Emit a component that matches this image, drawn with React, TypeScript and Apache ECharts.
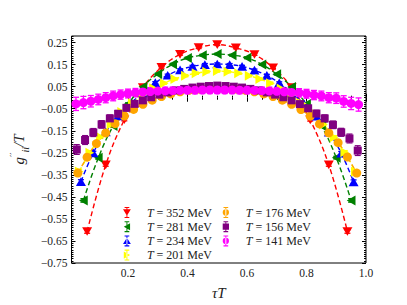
import React, { useEffect, useRef } from "react";
import * as echarts from "echarts";

// Temperatures (MeV), temporal extents N_tau, series colours
const temps = [352, 281, 234, 201, 176, 156, 141];
const nTau = [16, 20, 24, 28, 32, 36, 40];
const colors = ["#ff0000", "#008000", "#0000ff", "#ffff00", "#ffa500", "#800080", "#ff00ff"];

// g''_ii / T values at tauT = k / N_tau, k = 1 .. N_tau-1
const g352 = [-0.607, -0.305, -0.100, 0.046, 0.138, 0.197, 0.227, 0.241, 0.226, 0.196, 0.136, 0.046, -0.101, -0.305, -0.607];
const e352 = [0.008, 0.006, 0.005, 0.005, 0.004, 0.004, 0.004, 0.004, 0.004, 0.004, 0.004, 0.005, 0.005, 0.006, 0.008];

const g281 = [-0.466, -0.273, -0.128, -0.028, 0.050, 0.108, 0.152, 0.180, 0.193, 0.198, 0.193, 0.181, 0.151, 0.107, 0.049, -0.029, -0.127, -0.272, -0.466];
const e281 = [0.008, 0.006, 0.005, 0.005, 0.005, 0.004, 0.004, 0.004, 0.004, 0.004, 0.004, 0.004, 0.004, 0.004, 0.005, 0.005, 0.005, 0.006, 0.008];

const g234 = [-0.381, -0.250, -0.155, -0.083, -0.027, 0.022, 0.068, 0.102, 0.126, 0.142, 0.150, 0.153, 0.150, 0.142, 0.125, 0.101, 0.067, 0.021, -0.028, -0.084, -0.156, -0.251, -0.382];
const e234 = [0.009, 0.007, 0.006, 0.005, 0.005, 0.005, 0.005, 0.005, 0.005, 0.005, 0.005, 0.005, 0.005, 0.005, 0.005, 0.005, 0.005, 0.005, 0.005, 0.005, 0.006, 0.007, 0.009];

const g201 = [-0.335, -0.250, -0.178, -0.120, -0.065, -0.025, 0.012, 0.043, 0.066, 0.085, 0.100, 0.111, 0.118, 0.121, 0.118, 0.111, 0.100, 0.085, 0.066, 0.042, 0.011, -0.026, -0.066, -0.121, -0.179, -0.248, -0.336];
const e201 = [0.010, 0.008, 0.007, 0.006, 0.006, 0.006, 0.005, 0.005, 0.005, 0.005, 0.005, 0.005, 0.005, 0.005, 0.005, 0.005, 0.005, 0.005, 0.005, 0.005, 0.005, 0.006, 0.006, 0.006, 0.007, 0.008, 0.010];

const g176 = [-0.342, -0.270, -0.208, -0.160, -0.118, -0.083, -0.053, -0.030, -0.011, 0.005, 0.017, 0.027, 0.034, 0.039, 0.042, 0.043, 0.042, 0.039, 0.034, 0.027, 0.017, 0.005, -0.011, -0.030, -0.054, -0.084, -0.119, -0.160, -0.204, -0.269, -0.342];
const e176 = [0.012, 0.010, 0.009, 0.008, 0.008, 0.007, 0.007, 0.007, 0.006, 0.006, 0.006, 0.006, 0.006, 0.006, 0.006, 0.006, 0.006, 0.006, 0.006, 0.006, 0.006, 0.006, 0.006, 0.007, 0.007, 0.007, 0.008, 0.008, 0.009, 0.010, 0.012];

const g156 = [-0.235, -0.192, -0.158, -0.121, -0.094, -0.073, -0.046, -0.028, -0.012, 0.002, 0.014, 0.024, 0.033, 0.040, 0.046, 0.050, 0.053, 0.055, 0.053, 0.050, 0.046, 0.040, 0.033, 0.024, 0.014, 0.002, -0.012, -0.029, -0.048, -0.072, -0.094, -0.123, -0.157, -0.185, -0.240];
const e156 = [0.022, 0.020, 0.018, 0.017, 0.016, 0.015, 0.014, 0.014, 0.013, 0.013, 0.012, 0.012, 0.012, 0.012, 0.012, 0.012, 0.012, 0.012, 0.012, 0.012, 0.012, 0.012, 0.012, 0.012, 0.012, 0.013, 0.013, 0.014, 0.014, 0.015, 0.016, 0.017, 0.018, 0.020, 0.022];

const g141 = [-0.028, -0.022, -0.016, -0.008, 0.000, 0.008, 0.014, 0.019, 0.023, 0.026, 0.028, 0.030, 0.031, 0.032, 0.033, 0.034, 0.034, 0.035, 0.035, 0.035, 0.035, 0.035, 0.034, 0.034, 0.033, 0.032, 0.031, 0.029, 0.027, 0.024, 0.022, 0.018, 0.012, 0.008, 0.000, -0.002, -0.017, -0.026, -0.031];
const e141 = [0.030, 0.028, 0.026, 0.024, 0.023, 0.022, 0.021, 0.020, 0.019, 0.018, 0.018, 0.017, 0.017, 0.016, 0.016, 0.016, 0.016, 0.016, 0.016, 0.016, 0.016, 0.016, 0.016, 0.016, 0.016, 0.016, 0.017, 0.017, 0.018, 0.018, 0.019, 0.020, 0.021, 0.022, 0.023, 0.024, 0.026, 0.028, 0.030];

const values = [g352, g281, g234, g201, g176, g156, g141];
const errors = [e352, e281, e234, e201, e176, e156, e141];
const hasFit = [true, true, true, true, true, false, false];

// Axis tick labels
const xTickLabels = [0.2, 0.4, 0.6, 0.8, 1.0];
const yTickLabels = [-0.75, -0.65, -0.55, -0.45, -0.35, -0.25, -0.15, -0.05, 0.05, 0.15, 0.25];

const XMIN = 0.01, XMAX = 1.0, YMIN = -0.75, YMAX = 0.28;
const FONT = "Liberation Serif";

const markerSymbols = [
  "path://M0,0 L10,0 L5,8.66 Z",
  "path://M0,5 L8.66,0 L8.66,10 Z",
  "path://M5,0 L10,8.66 L0,8.66 Z",
  "path://M8.66,5 L0,0 L0,10 Z",
  "circle",
  "rect",
  "circle",
];
const markerSizes: any[] = [[10, 8.7], [8.7, 10], [10, 8.7], [8.7, 10], 9, 8, 9];

const BAR = "M2,0 L8,0 L8,1.4 L5.6,1.4 L5.6,12.6 L8,12.6 L8,14 L2,14 L2,12.6 L4.4,12.6 L4.4,1.4 L2,1.4 Z ";
const legendIcons = [
  "path://" + BAR + "M0,3 L10,3 L5,11 Z",
  "path://" + BAR + "M1,7 L9,2.5 L9,11.5 Z",
  "path://" + BAR + "M0,11 L10,11 L5,3 Z",
  "path://" + BAR + "M9,7 L1,2.5 L1,11.5 Z",
  "path://" + BAR + "M1,7 A4,4 0 1 0 9,7 A4,4 0 1 0 1,7 Z",
  "path://" + BAR + "M1,3 L9,3 L9,11 L1,11 Z",
  "path://" + BAR + "M1,7 A4,4 0 1 0 9,7 A4,4 0 1 0 1,7 Z",
];

function range(a: number, b: number, step: number) {
  const out: number[] = [];
  for (let v = a; v <= b + 1e-9; v += step) out.push(Math.round(v * 1000) / 1000);
  return out;
}

export default function App() {
  const ref = useRef<HTMLDivElement>(null);
  useEffect(() => {
    if (!ref.current) return;
    const chart = echarts.init(ref.current, null, { renderer: "svg" });
    const names = temps.map((t) => String(t));

    const series: any[] = [];
    temps.forEach((t, i) => {
      const data = values[i].map((v, k) => [(k + 1) / nTau[i], v]);
      const errData = values[i].map((v, k) => [(k + 1) / nTau[i], v, errors[i][k]]);
      const color = colors[i];
      series.push({
        type: "custom",
        name: "err" + t,
        xAxisIndex: 0,
        yAxisIndex: 0,
        z: 2,
        encode: { x: 0, y: 1 },
        data: errData,
        renderItem: (params: any, api: any) => {
          const x = api.value(0), y = api.value(1), e = api.value(2);
          const top = api.coord([x, y + e]);
          const bot = api.coord([x, y - e]);
          const cw = 3;
          const st = { stroke: color, lineWidth: 1.3 };
          return {
            type: "group",
            children: [
              { type: "line", shape: { x1: top[0], y1: top[1], x2: bot[0], y2: bot[1] }, style: st },
              { type: "line", shape: { x1: top[0] - cw, y1: top[1], x2: top[0] + cw, y2: top[1] }, style: st },
              { type: "line", shape: { x1: bot[0] - cw, y1: bot[1], x2: bot[0] + cw, y2: bot[1] }, style: st },
            ],
          };
        },
      });
      series.push({
        type: "line",
        name: names[i],
        xAxisIndex: 0,
        yAxisIndex: 0,
        z: 3,
        data,
        smooth: 0.4,
        symbol: markerSymbols[i],
        symbolSize: markerSizes[i],
        showSymbol: true,
        itemStyle: { color, opacity: 1 },
        lineStyle: hasFit[i]
          ? { color, width: 1.4, type: [5, 3] }
          : { width: 0, opacity: 0 },
      });
    });

    const tickStyle = { color: "#000", width: 1 };
    const labelStyle = { fontFamily: FONT, fontSize: 11.5, color: "#222" };
    const xMinor = range(0.05, 0.95, 0.05).filter((v) => !xTickLabels.some((m) => Math.abs(m - v) < 1e-6));
    const yMinor = range(-0.74, 0.28, 0.01).filter((v) => !yTickLabels.some((m) => Math.abs(m - v) < 1e-6));

    const baseX = { type: "value", min: XMIN, max: XMAX, splitLine: { show: false }, axisLine: { show: false } };
    const baseY = { type: "value", min: YMIN, max: YMAX, splitLine: { show: false }, axisLine: { show: false } };

    const legendBase = {
      orient: "vertical",
      padding: 0,
      itemWidth: 8,
      itemHeight: 11,
      itemGap: 2.2,
      textStyle: {
        fontFamily: FONT,
        fontSize: 12,
        color: "#222",
        rich: {
          gap: { width: 11 },
          i: { fontFamily: FONT, fontSize: 12, fontStyle: "italic", color: "#222" },
        },
      },
      formatter: (n: string) => "{gap| }{i|T} = " + n + " MeV",
      selectedMode: false,
    };

    chart.setOption({
      animation: false,
      backgroundColor: "#fff",
      grid: { left: 61, right: 41, top: 36, bottom: 33, show: true, borderColor: "#000", borderWidth: 1, backgroundColor: "transparent" },
      legend: [
        { ...legendBase, left: 123, top: 206.5, data: [0, 1, 2, 3].map((i) => ({ name: names[i], icon: legendIcons[i] })) },
        { ...legendBase, left: 222.7, top: 206.5, data: [4, 5, 6].map((i) => ({ name: names[i], icon: legendIcons[i] })) },
      ],
      xAxis: [
        {
          ...baseX,
          position: "bottom",
          name: "τT",
          nameLocation: "middle",
          nameGap: 22,
          nameTextStyle: { fontFamily: FONT, fontStyle: "italic", fontSize: 15, color: "#222" },
          axisTick: { show: true, inside: true, length: 4, customValues: xTickLabels, lineStyle: tickStyle },
          axisLabel: { ...labelStyle, margin: 4, customValues: xTickLabels, formatter: (v: number) => v.toFixed(1) },
        },
        { ...baseX, position: "bottom", axisLabel: { show: false }, axisTick: { show: true, inside: true, length: 2, customValues: xMinor, lineStyle: tickStyle } },
        { ...baseX, position: "top", axisLabel: { show: false }, axisTick: { show: true, inside: true, length: 4, customValues: xTickLabels, lineStyle: tickStyle } },
        { ...baseX, position: "top", axisLabel: { show: false }, axisTick: { show: true, inside: true, length: 2, customValues: xMinor, lineStyle: tickStyle } },
      ],
      yAxis: [
        {
          ...baseY,
          position: "left",
          name: "{g|g}{p|′′}{s|ii}{g|/T}",
          nameLocation: "middle",
          nameGap: 31,
          nameRotate: 90,
          nameTextStyle: {
            rich: {
              g: { fontFamily: FONT, fontStyle: "italic", fontSize: 15, color: "#222", lineHeight: 22 },
              p: { fontFamily: "DejaVu Serif", fontSize: 10, color: "#222", verticalAlign: "top", lineHeight: 12 },
              s: { fontFamily: FONT, fontStyle: "italic", fontSize: 10, color: "#222", verticalAlign: "bottom", lineHeight: 13 },
            },
          },
          axisTick: { show: true, inside: true, length: 4, customValues: yTickLabels, lineStyle: tickStyle },
          axisLabel: {
            ...labelStyle,
            margin: 4,
            customValues: yTickLabels,
            formatter: (v: number) => (v < 0 ? "\u2212" : "") + Math.abs(v).toFixed(2),
          },
        },
        { ...baseY, position: "left", axisLabel: { show: false }, axisTick: { show: true, inside: true, length: 2, customValues: yMinor, lineStyle: tickStyle } },
        { ...baseY, position: "right", axisLabel: { show: false }, axisTick: { show: true, inside: true, length: 4, customValues: yTickLabels, lineStyle: tickStyle } },
        { ...baseY, position: "right", axisLabel: { show: false }, axisTick: { show: true, inside: true, length: 2, customValues: yMinor, lineStyle: tickStyle } },
      ],
      series,
    });
    return () => chart.dispose();
  }, []);
  return <div ref={ref} style={{ position: "fixed", left: 0, top: 0, width: 407, height: 305 }} />;
}
